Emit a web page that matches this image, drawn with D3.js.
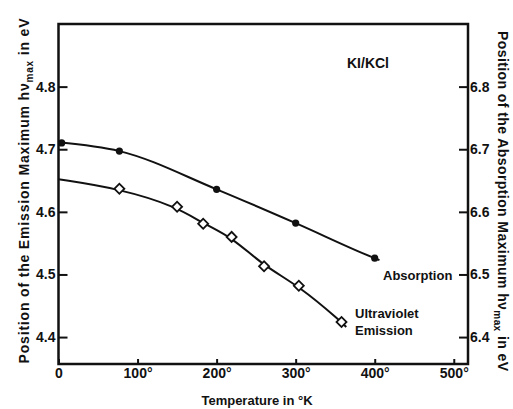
<!DOCTYPE html>
<html>
<head>
<meta charset="utf-8">
<script src="https://cdn.jsdelivr.net/npm/d3@7"></script>
<style>
  body { margin: 0; background: #fff; }
  text { font-family: "Liberation Sans", Arial, sans-serif; fill: #111; }
</style>
</head>
<body>
<svg id="chart"></svg>
<script>
// absorption (filled dots)
const absT  = [4, 77, 200, 300, 400]
const absEV = [4.710, 4.697, 4.636, 4.582, 4.526]
// ultraviolet emission (open diamonds)
const emT  = [77, 150, 183, 219, 260, 304, 358]
const emEV = [4.637, 4.608, 4.581, 4.560, 4.513, 4.482, 4.424]
// where the drawn curves start and stop beyond the points
const absLineStart = {T: 0, eV: 4.711}
const absLineEnd   = {T: 406, eV: 4.523}
const emLineStart  = {T: 0, eV: 4.652}
const emLineEnd    = {T: 364, eV: 4.416}

const xTicks = [0, 100, 200, 300, 400, 500]
const yLeftTicks  = [4.4, 4.5, 4.6, 4.7, 4.8]
const yRightTicks = [6.4, 6.5, 6.6, 6.7, 6.8]

const W = 513, H = 409
const frame = {left: 58.5, right: 468, top: 24, bottom: 364}

const svg = d3.select('#chart').attr('width', W).attr('height', H)

const x = d3.scaleLinear().domain([0, 518]).range([frame.left, frame.right])
const yL = d3.scaleLinear().domain([4.357, 4.9]).range([frame.bottom, frame.top])
const yR = d3.scaleLinear().domain([6.357, 6.9]).range([frame.bottom, frame.top])

// axes (ticks point inward)
const gx = svg.append('g')
  .attr('transform', 'translate(0,' + frame.bottom + ')')
  .call(d3.axisBottom(x).tickValues(xTicks).tickSize(-5).tickPadding(3)
    .tickFormat(d => d === 0 ? '0' : d + '°'))
gx.selectAll('text').attr('font-size', 14).attr('font-weight', 'bold').attr('dy', '0.8em')

const gyl = svg.append('g')
  .attr('transform', 'translate(' + frame.left + ',0)')
  .call(d3.axisLeft(yL).tickValues(yLeftTicks).tickSize(-9).tickPadding(3)
    .tickFormat(d3.format('.1f')))
gyl.selectAll('text').attr('font-size', 14).attr('font-weight', 'bold')

const gyr = svg.append('g')
  .attr('transform', 'translate(' + frame.right + ',0)')
  .call(d3.axisRight(yR).tickValues(yRightTicks).tickSize(-9).tickPadding(2)
    .tickFormat(d3.format('.1f')))
gyr.selectAll('text').attr('font-size', 14).attr('font-weight', 'bold')

svg.selectAll('.domain').remove()
svg.selectAll('.tick line').attr('stroke', '#111').attr('stroke-width', 2)

// frame
svg.append('rect')
  .attr('x', frame.left).attr('y', frame.top)
  .attr('width', frame.right - frame.left).attr('height', frame.bottom - frame.top)
  .attr('fill', 'none').attr('stroke', '#111').attr('stroke-width', 2.5)

// curves
const absPts = absT.map((t, i) => ({T: t, eV: absEV[i]}))
const emPts = emT.map((t, i) => ({T: t, eV: emEV[i]}))

svg.append('path')
  .datum([absLineStart].concat(absPts.slice(1), [absLineEnd]))
  .attr('fill', 'none').attr('stroke', '#111').attr('stroke-width', 2)
  .attr('d', d3.line().x(d => x(d.T)).y(d => yL(d.eV)).curve(d3.curveMonotoneX))

// emission curve is a smooth fit, not through every point
svg.append('path')
  .datum([emLineStart].concat(emPts, [emLineEnd]))
  .attr('fill', 'none').attr('stroke', '#111').attr('stroke-width', 2)
  .attr('d', d3.line().x(d => x(d.T)).y(d => yL(d.eV)).curve(d3.curveBasis))

// markers
svg.selectAll('.dot').data(absPts).join('circle')
  .attr('class', 'dot')
  .attr('cx', d => x(d.T)).attr('cy', d => yL(d.eV))
  .attr('r', 3.6).attr('fill', '#111')

svg.selectAll('.diamond').data(emPts).join('path')
  .attr('class', 'diamond')
  .attr('transform', d => 'translate(' + x(d.T) + ',' + yL(d.eV) + ') rotate(45)')
  .attr('d', d3.symbol().type(d3.symbolSquare).size(50))
  .attr('fill', '#fff').attr('stroke', '#111').attr('stroke-width', 1.8)

// annotations
svg.append('text').attr('x', 368).attr('y', 68).attr('text-anchor', 'middle')
  .attr('font-size', 14).attr('font-weight', 'bold').text('KI/KCl')

svg.append('text').attr('x', 383).attr('y', 280)
  .attr('font-size', 13).attr('font-weight', 'bold').text('Absorption')

svg.append('text').attr('x', 355).attr('y', 318)
  .attr('font-size', 13).attr('font-weight', 'bold').text('Ultraviolet')
svg.append('text').attr('x', 355).attr('y', 335)
  .attr('font-size', 13).attr('font-weight', 'bold').text('Emission')

// axis titles
svg.append('text').attr('x', 257).attr('y', 405).attr('text-anchor', 'middle')
  .attr('font-size', 13).attr('font-weight', 'bold').text('Temperature in °K')

function sideTitle(tx, ty, rot, word, len) {
  const t = svg.append('text')
    .attr('transform', 'translate(' + tx + ',' + ty + ') rotate(' + rot + ')')
    .attr('text-anchor', 'middle').attr('font-size', 14).attr('font-weight', 'bold')
    .attr('textLength', len).attr('lengthAdjust', 'spacing')
  t.append('tspan').text('Position of the ' + word + '  Maximum  hν')
  t.append('tspan').attr('font-size', 10).attr('dy', 4).text('max')
  t.append('tspan').attr('dy', -4).text(' in eV')
}
sideTitle(29, 191, -90, 'Emission', 345)
sideTitle(498, 201, 90, 'Absorption', 340)
</script>
</body>
</html>
